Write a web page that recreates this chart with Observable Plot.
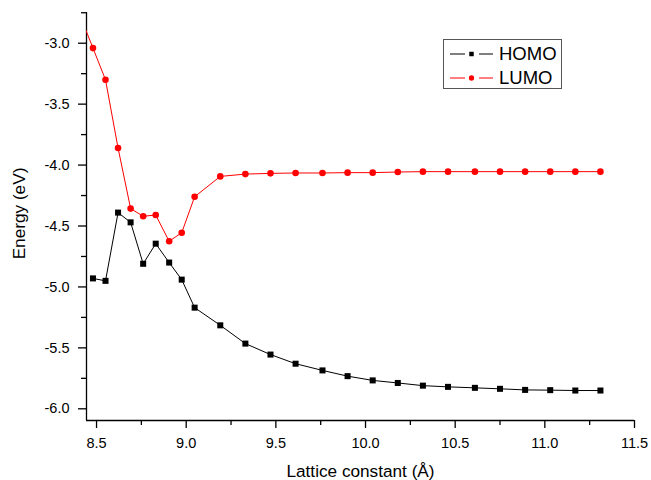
<!DOCTYPE html>
<html><head><meta charset="utf-8">
<script src="https://cdn.jsdelivr.net/npm/d3@7"></script>
<script src="https://cdn.jsdelivr.net/npm/@observablehq/plot@0.6"></script>
<style>
body{margin:0;background:#fff;font-family:"Liberation Sans",Arial,sans-serif;}
#wrap{position:relative;width:651px;height:480px;}
#legend{position:absolute;left:443px;top:39px;width:117px;height:48px;border:1px solid #555;background:#fff;}
#legend .row{position:absolute;left:0;height:22px;display:flex;align-items:center;font-size:18.5px;color:#000;}
#legend svg{display:block;margin-left:6px;margin-right:6px;}
</style></head><body><div id="wrap"></div>
<script>
// Lattice constants (Å)
const homoLattice = [8.48, 8.55, 8.62, 8.69, 8.76, 8.83, 8.905, 8.975, 9.047, 9.19, 9.33, 9.47, 9.61, 9.76, 9.90, 10.04, 10.18, 10.32, 10.46, 10.61, 10.75, 10.89, 11.03, 11.17, 11.31];
const homoEnergy = [-4.93, -4.95, -4.39, -4.47, -4.81, -4.645, -4.80, -4.94, -5.17, -5.315, -5.465, -5.555, -5.63, -5.685, -5.732, -5.767, -5.788, -5.81, -5.82, -5.828, -5.836, -5.845, -5.847, -5.85, -5.85];
const lumoLattice = [8.41, 8.48, 8.55, 8.62, 8.69, 8.76, 8.83, 8.905, 8.975, 9.047, 9.19, 9.33, 9.47, 9.61, 9.76, 9.90, 10.04, 10.18, 10.32, 10.46, 10.61, 10.75, 10.89, 11.03, 11.17, 11.31];
const lumoEnergy = [-2.78, -3.04, -3.30, -3.86, -4.357, -4.42, -4.41, -4.625, -4.555, -4.26, -4.093, -4.074, -4.068, -4.065, -4.065, -4.062, -4.062, -4.057, -4.054, -4.054, -4.054, -4.054, -4.054, -4.054, -4.054, -4.054];
const xTicks = [8.5, 9.0, 9.5, 10.0, 10.5, 11.0, 11.5];
const xMinorTicks = [8.75, 9.25, 9.75, 10.25, 10.75, 11.25];
const yTicks = [-6.0, -5.5, -5.0, -4.5, -4.0, -3.5, -3.0];
const yMinorTicks = [-5.75, -5.25, -4.75, -4.25, -3.75, -3.25, -2.75];
const xDomain = [8.444, 11.5];
const yDomain = [-6.096, -2.748];
const xLabel = "Lattice constant (Å)";
const yLabel = "Energy (eV)";
const seriesNames = ["HOMO", "LUMO"];

const homo = homoLattice.map((x, i) => ({x, y: homoEnergy[i]}));
const lumo = lumoLattice.map((x, i) => ({x, y: lumoEnergy[i]}));
const fmt = d => d.toFixed(1);

const chart = Plot.plot({
  width: 651, height: 480,
  marginLeft: 86, marginRight: 17, marginTop: 12, marginBottom: 60,
  x: {domain: xDomain},
  y: {domain: yDomain},
  style: {fontFamily: '"Liberation Sans", Arial, sans-serif', fontSize: "14.5px", color: "#000", background: "#fff"},
  marks: [
    Plot.axisX({ticks: xTicks, tickSize: 8, tickPadding: 9, tickFormat: fmt, label: null, strokeWidth: 1.3}),
    Plot.axisX({ticks: xMinorTicks, tickSize: 5, tickFormat: () => "", label: null, strokeWidth: 1.3}),
    Plot.axisY({ticks: yTicks, tickSize: 8, tickPadding: 9, tickFormat: fmt, label: null, strokeWidth: 1.3}),
    Plot.axisY({ticks: yMinorTicks, tickSize: 5, tickFormat: () => "", label: null, strokeWidth: 1.3}),
    Plot.ruleX([xDomain[0]], {strokeWidth: 1.3}),
    Plot.ruleY([yDomain[0]], {strokeWidth: 1.3}),
    Plot.lineY(homo, {x: "x", y: "y", stroke: "#000", strokeWidth: 1, clip: true}),
    Plot.lineY(lumo, {x: "x", y: "y", stroke: "#ff0000", strokeWidth: 1, clip: true}),
    Plot.dot(homo, {x: "x", y: "y", symbol: "square", r: 3.4, fill: "#000", clip: true}),
    Plot.dot(lumo, {x: "x", y: "y", symbol: "circle", r: 3.3, fill: "#ff0000", clip: true}),
    Plot.text([xLabel], {frameAnchor: "bottom", dy: 51, lineAnchor: "middle", fontSize: 17.2}),
    Plot.text([yLabel], {frameAnchor: "left", dx: -67.5, dy: -3, rotate: -90, textAnchor: "middle", lineAnchor: "middle", fontSize: 17.2})
  ]
});
const wrap = document.getElementById("wrap");
wrap.appendChild(chart);

// Legend
const legend = document.createElement("div");
legend.id = "legend";
const colors = ["#000", "#ff0000"];
const symbols = [d3.symbolSquare, d3.symbolCircle];
const sizes = [20, 22];
seriesNames.forEach((name, i) => {
  const row = document.createElement("div");
  row.className = "row";
  row.style.top = (3 + i * 23.5) + "px";
  const svg = d3.create("svg").attr("width", 43).attr("height", 22);
  svg.append("line").attr("x1", 0).attr("x2", 15).attr("y1", 11).attr("y2", 11).attr("stroke", colors[i]).attr("stroke-width", 1);
  svg.append("line").attr("x1", 29).attr("x2", 43).attr("y1", 11).attr("y2", 11).attr("stroke", colors[i]).attr("stroke-width", 1);
  svg.append("path").attr("d", d3.symbol(symbols[i], sizes[i])()).attr("transform", "translate(21.5,11)").attr("fill", colors[i]);
  row.appendChild(svg.node());
  const span = document.createElement("span");
  span.textContent = name;
  row.appendChild(span);
  legend.appendChild(row);
});
wrap.appendChild(legend);
</script>
</body></html>
